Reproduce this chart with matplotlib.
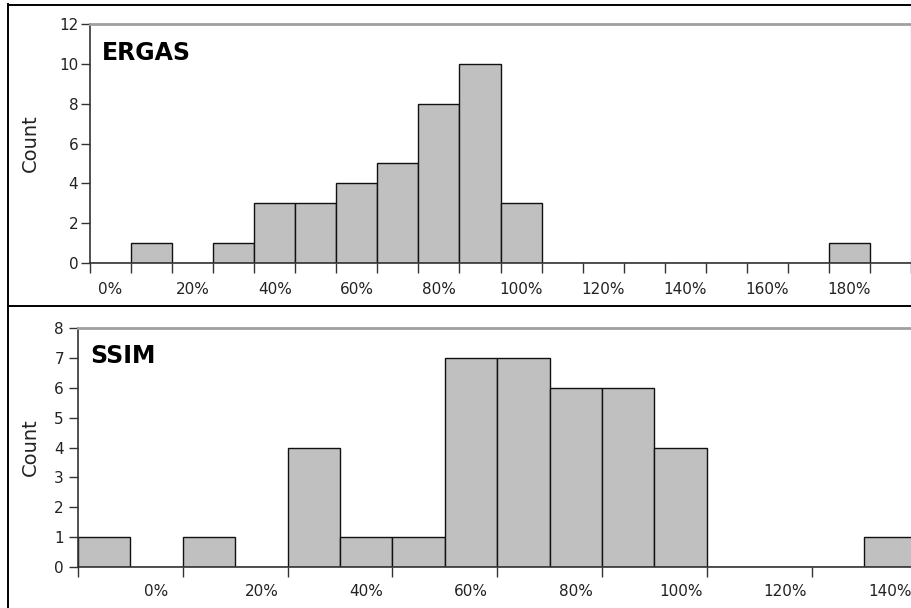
import matplotlib
matplotlib.use("Agg")
import matplotlib.pyplot as plt
from matplotlib.lines import Line2D
from matplotlib.ticker import FixedLocator, FixedFormatter

# ERGAS histogram: bin centres (%), counts
ergas_centers = [0, 10, 20, 30, 40, 50, 60, 70, 80, 90,
                 100, 110, 120, 130, 140, 150, 160, 170, 180, 190]
ergas_counts = [0, 1, 0, 1, 3, 3, 4, 5, 8, 10,
                3, 0, 0, 0, 0, 0, 0, 0, 1, 0]
ergas_labels = [0, 20, 40, 60, 80, 100, 120, 140, 160, 180]

# SSIM histogram: bin centres (%), counts
ssim_centers = [-10, 0, 10, 20, 30, 40, 50, 60, 70, 80,
                90, 100, 110, 120, 130, 140]
ssim_counts = [1, 0, 1, 0, 4, 1, 1, 7, 7, 6,
               6, 4, 0, 0, 0, 1]
ssim_labels = [0, 20, 40, 60, 80, 100, 120, 140]

BIN = 10
W, H = 912, 608
plt.rcParams["font.family"] = ["DejaVu Sans"]

fig = plt.figure(figsize=(W / 100, H / 100), dpi=100)


def px_rect(left, top, right, bottom):
    return [left / W, 1 - bottom / H, (right - left) / W, (bottom - top) / H]


def style_axes(ax, ylim, ystep, edge_ticks, label_pos, xlim, ylab_pad, xlab_pad):
    ax.set_xlim(*xlim)
    ax.set_ylim(*ylim)
    ax.set_yticks(range(ylim[0], ylim[1] + 1, ystep))
    # tick marks at bin edges, labels centred on bins
    ax.xaxis.set_major_locator(FixedLocator(edge_ticks))
    ax.xaxis.set_major_formatter(FixedFormatter([""] * len(edge_ticks)))
    ax.xaxis.set_minor_locator(FixedLocator(label_pos))
    ax.xaxis.set_minor_formatter(FixedFormatter([f"{v}%" for v in label_pos]))
    ax.tick_params(axis="x", which="major", direction="out", length=7.2,
                   width=1, color="#333333")
    ax.tick_params(axis="x", which="minor", length=0, pad=xlab_pad,
                   labelsize=11, labelcolor="#222222")
    ax.tick_params(axis="y", direction="out", length=6.5, width=1,
                   color="#333333", labelsize=11, labelcolor="#222222",
                   pad=ylab_pad)
    for s in ("left", "bottom"):
        ax.spines[s].set_color("#333333")
        ax.spines[s].set_linewidth(1.2)
    ax.spines["top"].set_color("#a0a0a0")
    ax.spines["top"].set_linewidth(2)
    ax.spines["right"].set_color("#d0d0d0")
    ax.spines["right"].set_linewidth(1)


# --- ERGAS panel ---
ax1 = fig.add_axes(px_rect(90, 24, 911, 263))
ax1.bar(ergas_centers, ergas_counts, width=BIN, color="#c0c0c0",
        edgecolor="#111111", linewidth=1, zorder=2)
ergas_edges = [c - BIN / 2 for c in ergas_centers] + [ergas_centers[-1] + BIN / 2]
style_axes(ax1, (0, 12), 2, ergas_edges, ergas_labels,
           (ergas_centers[0] - BIN / 2, ergas_centers[-1] + BIN / 2), 2, 13.5)

# --- SSIM panel ---
ax2 = fig.add_axes(px_rect(78, 328, 914, 567))
ax2.bar(ssim_centers, ssim_counts, width=BIN, color="#c0c0c0",
        edgecolor="#111111", linewidth=1, zorder=2)
ssim_edges = [c - BIN / 2 for c in ssim_centers[::2]]
style_axes(ax2, (0, 8), 1, ssim_edges, ssim_labels,
           (ssim_centers[0] - BIN / 2, ssim_centers[0] - BIN / 2 + 836 / 5.24),
           3.6, 12.5)

# panel titles and y labels
fig.text(102 / W, 1 - 60 / H, "ERGAS", fontsize=17, fontweight="bold",
         va="baseline", ha="left")
fig.text(90 / W, 1 - 363 / H, "SSIM", fontsize=17, fontweight="bold",
         va="baseline", ha="left")
fig.text(30 / W, 1 - 143 / H, "Count", fontsize=14, rotation=90,
         va="center", ha="center", color="#222222")
fig.text(30 / W, 1 - 447 / H, "Count", fontsize=14, rotation=90,
         va="center", ha="center", color="#222222")

# panel frames
for xs, ys in [((8, 8), (4, 608)),
               ((8, 912), (4.5, 4.5)),
               ((8, 912), (306, 306))]:
    fig.add_artist(Line2D([x / W for x in xs], [1 - y / H for y in ys],
                          color="black", linewidth=1.4,
                          transform=fig.transFigure))

fig.savefig("out.png", dpi=100)
